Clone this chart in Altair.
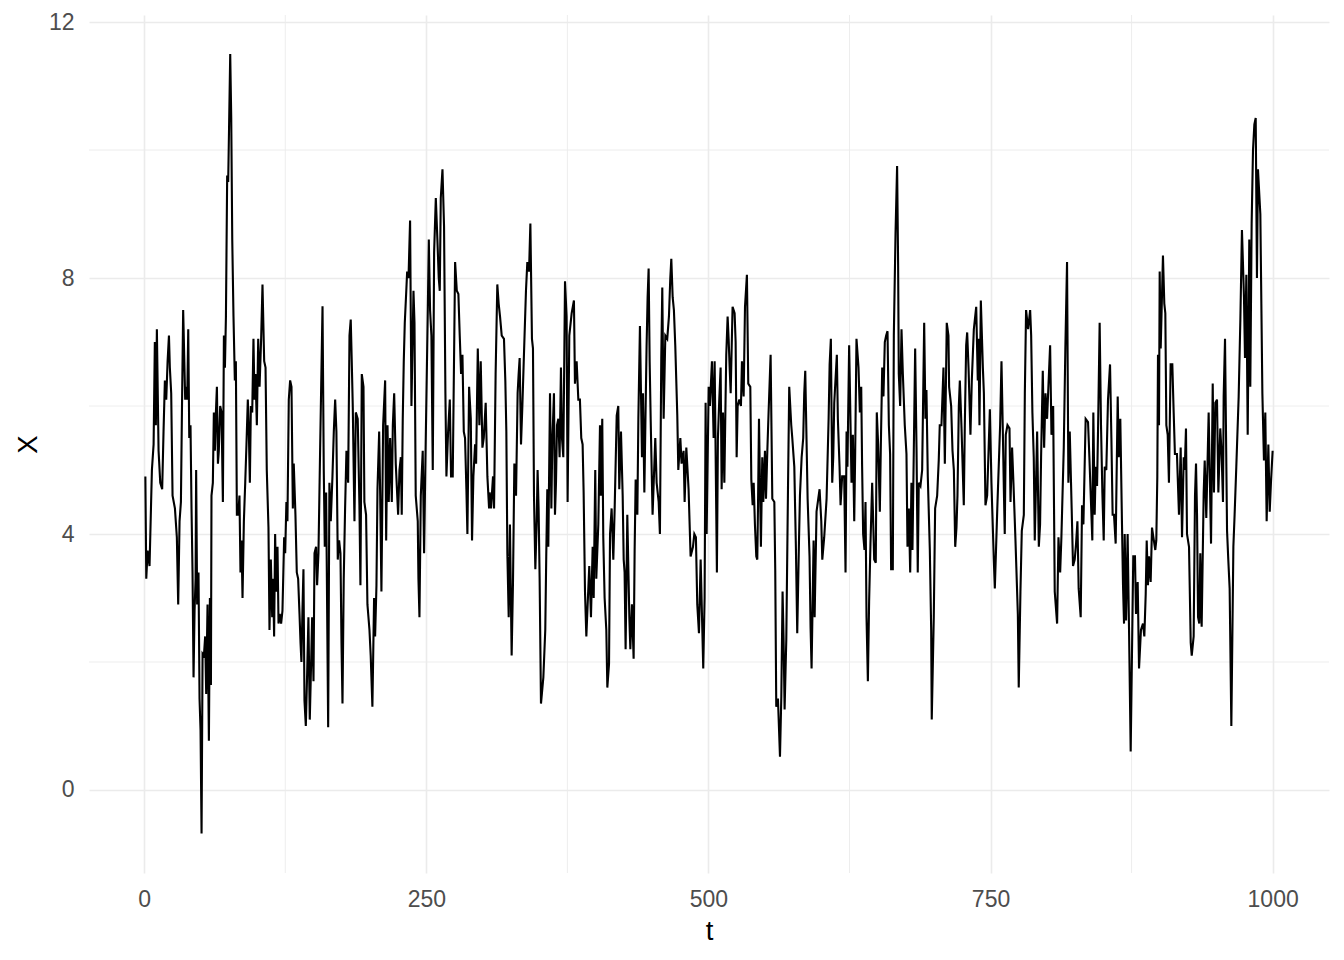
import altair as alt
import pandas as pd

# ---- series (t, X), segment by segment ----
t_seg1 = [1, 1.8, 3, 4.7, 6.8, 8.3, 9.4, 10.3, 11.2, 12.7,
          14.2, 15.9, 17.1, 18.3, 19.5, 20.7, 21.9, 22.7, 23.9, 25.1,
          27.2, 28.9, 30.1, 31.3, 32.5, 33.4, 34.5, 35.4, 36.3, 37.2,
          38.1, 39, 39.9, 41, 41.9, 42.8, 43.7, 44.6, 45.5, 46,
          46.9, 48.1, 49, 49.9, 50.8, 51.7, 52.9, 54, 54.9, 56.1,
          57.3, 58.2, 59.1, 59.6, 60.8, 61.7, 62.6, 63.5, 64.4, 65.3,
          66.1, 67.3, 68.5, 69.7, 70.6, 71.5, 72.4, 73.5, 74.4, 75.3,
          76.2, 77.1, 78, 79.1, 80.3, 81.2, 82.1, 83.3, 84.4, 85.3,
          86.2, 87.1, 88.3, 89.5, 90.6, 91.8, 92.7, 93.6, 94.5, 95.7,
          96.8, 97.7, 98.6, 99.8, 101, 102.2]
x_seg1 = [4.9, 3.3, 3.74, 3.5, 5.0, 5.4, 7.0, 5.7, 7.2, 5.3,
          4.8, 4.7, 5.6, 6.4, 6.1, 6.7, 7.1, 6.6, 6.2, 4.6,
          4.4, 3.95, 2.9, 4.2, 4.5, 5.9, 7.5, 6.8, 6.1, 6.3,
          6.1, 7.2, 5.5, 5.7, 4.4, 3.4, 1.76, 2.8, 3.3, 5.0,
          2.9, 3.4, 1.43, 0.93, -0.68, 2.13, 2.1, 2.4, 1.5, 2.9,
          0.77, 3.0, 1.64, 4.6, 4.8, 5.9, 5.3, 5.9, 6.3, 5.1,
          5.3, 6.0, 5.9, 4.5, 7.1, 6.6, 7.4, 9.6, 9.5, 10.5,
          11.5, 10.5, 8.6, 7.4, 6.4, 6.7, 4.3, 4.3, 4.6, 3.4,
          3.9, 3.0, 4.2, 4.8, 5.4, 6.1, 5.6, 4.8, 6.0, 5.9,
          7.05, 6.1, 6.5, 5.7, 7.05, 6.3]

t_seg2 = [103.6, 104.8, 106.3, 107.5, 108.6, 110.1, 111, 112.2, 113.4, 114.2,
          115.1, 116, 116.9, 118.1, 119, 120.1, 121.3, 122.5, 124, 124.9,
          126, 126.9, 128.1, 129.3, 130.5, 131.7, 132.5, 134, 135.2, 136.4,
          137.6, 138.5, 139.3, 140.2, 141.1, 142, 143.2, 144.4, 145.5, 146.7,
          147.6, 148.8, 150, 150.9, 152.3, 153.2, 154.4, 155.9, 158, 159.1,
          160, 161.2, 163, 164.1, 165.3, 166.8, 168, 169.2, 170.3, 171.5,
          172.7, 173.9, 174.8, 175.7, 176.8, 178, 179.2, 180.7, 181.9, 183,
          183.9, 184.8, 186.3, 187.5, 189.2, 190.7, 191.6, 192.8, 194.3, 195.1,
          196.6, 197.8, 199.6, 200.7, 202.2, 203.7]
x_seg2 = [7.05, 7.9, 6.7, 6.6, 5.0, 4.1, 2.5, 3.6, 2.7, 3.3,
          2.4, 4.0, 3.1, 3.8, 2.6, 2.75, 2.6, 2.8, 3.95, 3.7,
          4.5, 4.2, 6.1, 6.4, 6.3, 4.4, 5.1, 4.3, 3.4, 3.3,
          2.75, 2.3, 2.0, 2.8, 3.45, 1.4, 1.0, 1.84, 2.7, 1.1,
          1.76, 2.7, 1.7, 3.7, 3.8, 3.2, 3.7, 5.35, 7.56, 5.0,
          3.8, 4.65, 0.98, 4.8, 4.2, 4.9, 5.6, 6.1, 5.6, 3.6,
          3.9, 3.7, 2.3, 1.35, 3.3, 4.4, 5.3, 4.8, 7.1, 7.35,
          6.7, 6.0, 4.2, 5.9, 5.8, 4.45, 3.2, 6.5, 6.3, 4.5,
          4.3, 2.9, 2.5, 2.1, 1.3, 3.0]

t_seg3 = [204.6, 205.8, 206.7, 208.2, 209.1, 210.2, 211.7, 213.5, 214.4, 215.6,
          216.7, 217.9, 219.4, 220.3, 221.5, 222.9, 225, 226.2, 227.4, 228.2,
          229.1, 230, 230.9, 232.1, 233, 234.2, 235.6, 236.8, 238.6, 239.5,
          240.6, 242.4, 243, 243.9, 245.1, 246.8, 248, 249.5, 251.3, 252.2,
          253.3, 254.5, 255.7, 256.9, 258.4, 259.8, 261, 261.9, 262.8, 264.3,
          265.7, 266.9, 267.8, 269.3, 270.8, 271.9, 273.4, 275.5, 277, 278.4,
          279.6, 280.8, 282, 283.2, 284.3, 285.5, 286.4, 287.9, 289.4, 290.5,
          291.7, 293.2, 294.1, 295.6, 297, 298.2, 299.7, 300.9, 302.6, 304.1,
          305.6]
x_seg3 = [2.4, 3.2, 4.7, 5.6, 4.6, 3.1, 5.7, 6.4, 3.9, 5.7,
          4.5, 5.5, 4.5, 5.7, 6.2, 5.1, 4.3, 5.0, 5.2, 4.3,
          5.8, 6.7, 7.3, 7.75, 8.1, 8.0, 8.9, 6.0, 7.8, 7.3,
          4.6, 4.2, 3.3, 2.7, 4.6, 5.3, 3.7, 5.5, 7.5, 8.6,
          7.5, 7.1, 5.0, 8.4, 9.25, 8.6, 8.0, 7.8, 9.25, 9.7,
          8.8, 6.2, 4.9, 5.6, 6.1, 4.9, 4.9, 8.25, 7.8, 7.75,
          7.1, 6.5, 6.8, 5.6, 5.5, 4.7, 4.0, 6.3, 5.8, 3.9,
          4.9, 5.4, 5.1, 6.9, 5.7, 6.7, 5.35, 5.5, 6.05, 4.9,
          4.4]

t_seg4 = [306.1, 307.3, 309.1, 310, 311.4, 312.9, 314.1, 315.3, 316.8, 318.8,
          320, 320.9, 321.8, 323, 324.1, 325.6, 326.8, 328, 329.5, 330.9,
          331.8, 332.7, 333.9, 335.1, 336.5, 338.3, 339.5, 341, 342.2, 343.6,
          344.5, 345.4, 346.6, 347.8, 348.6, 349.5, 350.4, 351.6, 353.7, 355.4,
          356.3, 357.2, 358.1, 359.6, 360.8, 361.6, 363.1, 364, 364.9, 365.8,
          367, 368.1, 369.3, 370.2, 371.4, 372.9, 374.3, 375.2, 376.7, 378.8,
          380.8, 381.7, 383.2, 384.7, 386.1, 387.3, 388.5, 389.4, 390.6, 391.8,
          393.2, 394.4, 395.9, 397.4, 398.3, 399.7, 400.6, 402.4, 403.9, 404.7,
          405.9, 406.8, 408]
x_seg4 = [4.65, 4.4, 4.9, 4.4, 6.5, 7.9, 7.6, 7.4, 7.1, 7.05,
          6.4, 5.6, 3.7, 2.7, 4.15, 2.1, 3.25, 5.1, 4.6, 6.2,
          6.5, 6.75, 5.4, 6.0, 6.8, 7.8, 8.25, 8.1, 8.85, 7.05,
          6.9, 4.6, 3.45, 4.2, 5.0, 4.4, 3.3, 1.35, 1.76, 2.5,
          3.7, 4.7, 3.8, 6.2, 4.4, 5.4, 6.2, 4.3, 4.8, 5.7,
          5.8, 5.2, 6.6, 5.5, 5.2, 7.95, 7.4, 4.5, 7.1, 7.45,
          7.65, 6.35, 6.7, 6.1, 6.1, 5.5, 5.4, 4.65, 3.1, 2.4,
          3.0, 3.5, 2.7, 3.8, 3.0, 5.0, 3.3, 4.15, 5.7, 4.6,
          5.8, 3.95, 3.0]

t_seg5 = [409.5, 410.4, 411.9, 412.8, 414.2, 415.7, 416.9, 418.7, 420.1, 421,
          422.5, 424, 424.9, 425.7, 426.6, 428.1, 429.9, 430.8, 432.2, 433.7,
          434.6, 435.5, 437, 437.9, 439.3, 441.1, 442, 443.2, 444.1, 445.2,
          446.1, 447, 447.9, 448.8, 450.5, 452.9, 454.1, 455.9, 457, 458.2,
          459.1, 460.3, 461.8, 463.5, 465, 466.2, 467.1, 468.3, 469.4, 470.6,
          472.4, 473.3, 475.1, 476.2, 478, 478.9, 480.4, 482.4, 484.2, 486.3,
          487.5, 488.9, 490.1, 491.6, 493.1, 495.4, 496.6, 497.5, 498.4, 500.2,
          501.3, 503.1, 504.6, 505.5, 507.5, 508.4, 509.6]
x_seg5 = [2.5, 1.6, 1.97, 4.0, 4.4, 3.6, 4.4, 5.85, 6.0, 4.7,
          5.6, 4.6, 3.6, 3.4, 2.2, 4.3, 2.7, 2.2, 2.9, 2.05,
          3.75, 4.85, 4.3, 5.8, 7.25, 5.2, 6.2, 4.65, 5.7, 6.95,
          7.7, 8.15, 6.7, 5.8, 4.3, 5.5, 4.8, 4.5, 4.0, 6.75,
          7.85, 5.8, 7.1, 7.05, 7.4, 8.0, 8.3, 7.7, 7.5, 6.95,
          5.85, 5.0, 5.5, 5.1, 5.3, 4.5, 5.35, 4.7, 3.65, 3.8,
          4.0, 3.95, 2.9, 2.45, 3.6, 1.9, 3.0, 6.05, 4.0, 6.3,
          6.0, 6.7, 5.5, 6.7, 3.4, 5.5, 6.1]

t_seg6 = [510.8, 511.7, 512.9, 514.1, 515, 515.8, 517, 517.9, 518.8, 519.7,
          521.4, 523.2, 524.1, 525, 525.9, 527.4, 528.8, 529.7, 531.2, 532.4,
          534.1, 535.3, 537.1, 538, 539.2, 540.1, 541.2, 542.4, 543.3, 543.9,
          544.8, 546.5, 547.7, 548.6, 550.1, 551, 552.2, 553.3, 555.1, 556.6,
          558.4, 559.2, 560.1, 561.6, 563.4, 564.6, 565.7, 566.6, 567.5, 569,
          570.5, 571.6, 573.4, 574.3, 576.1, 577.5, 578.7, 580.2, 581.1, 582.6,
          584, 584.9, 585.8, 587.9, 589.6, 590.5, 591.4, 593.2, 594.1, 595.8,
          597.3, 598.5, 600, 600.9, 602.6, 604.7, 606.5, 607.4, 608.5, 609.7,
          610.6, 611.5]
x_seg6 = [6.6, 4.7, 5.9, 4.8, 5.9, 6.8, 7.4, 7.05, 6.6, 6.2,
          7.55, 7.45, 7.0, 5.2, 6.0, 6.1, 6.0, 6.7, 6.15, 7.55,
          8.05, 6.35, 6.3, 4.85, 4.45, 4.8, 4.15, 3.65, 3.6, 4.4,
          5.8, 3.8, 5.2, 4.5, 5.3, 4.55, 5.3, 5.9, 6.8, 4.55,
          4.5, 3.45, 1.3, 1.43, 0.52, 1.47, 3.1, 2.35, 1.26, 2.35,
          4.7, 6.3, 5.7, 5.5, 5.05, 3.8, 2.45, 3.85, 4.6, 5.2,
          5.5, 6.2, 6.55, 4.55, 3.65, 2.55, 1.9, 3.9, 2.7, 4.35,
          4.55, 4.7, 4.2, 3.6, 3.95, 4.55, 5.8, 6.65, 7.05, 4.8,
          5.2, 6.05]

t_seg7 = [613.8, 614.7, 616.2, 617.1, 618.5, 620.3, 621.5, 622.4, 623.2, 624.7,
          625.6, 626.8, 628, 629.2, 630, 631.2, 633, 634.2, 635.4, 636.2,
          637.1, 638.3, 639.2, 640.1, 641.3, 642.4, 643.6, 645.1, 646.9, 648.3,
          649.2, 650.4, 651.9, 652.8, 654, 655.1, 656.3, 657.5, 658.7, 659.9,
          661, 661.9, 663.4, 664.3, 665.8, 667.2, 668.1, 668.7, 669.9, 671.1,
          672.3, 674, 675.5, 676.4, 677.6, 678.8, 679.9, 680.8, 682, 683.2,
          684.4, 685.5, 686.4, 687.9, 689.4, 691.2, 692.3, 693.2, 694.4, 696.2,
          697.4, 697.9, 699.7, 700.9, 702.7, 704.1, 705, 706.5, 708.3, 709.5,
          711.2, 712.7]
x_seg7 = [6.8, 5.8, 5.05, 4.45, 4.9, 4.9, 3.4, 5.6, 5.05, 6.95,
          6.05, 4.8, 5.55, 4.2, 5.2, 7.05, 6.6, 5.9, 6.3, 5.05,
          4.0, 3.75, 4.5, 2.7, 1.7, 2.95, 3.85, 4.8, 3.6, 3.55,
          5.9, 5.4, 4.35, 5.4, 6.6, 6.15, 7.0, 7.1, 7.17, 5.7,
          5.25, 3.45, 3.45, 7.1, 8.7, 9.75, 8.2, 6.5, 6.0, 7.2,
          6.5, 5.7, 5.25, 3.8, 4.4, 3.4, 4.8, 3.75, 5.3, 6.9,
          5.35, 3.4, 4.8, 4.75, 5.0, 7.3, 5.8, 6.25, 4.9, 3.75,
          2.5, 1.1, 2.7, 4.4, 4.6, 5.15, 5.7, 5.7, 6.6, 5.1,
          7.3, 7.1]

t_seg8 = [713.3, 715.1, 716.3, 717.5, 718.7, 719.8, 720.7, 721.9, 722.8, 724.3,
          726.3, 727.2, 728.4, 729.3, 730.5, 732.2, 733.4, 735.2, 737.3, 738.7,
          739.3, 740.2, 741.4, 743.2, 744.1, 745.5, 747, 749.4, 750.8, 752.9,
          753.8, 755.9, 758.5, 759.7, 760.9, 761.8, 762.6, 763.5, 765, 766.8,
          767.7, 769.1, 770.3, 772.1, 774.2, 775, 776.5, 777.7, 779.5, 780.4,
          781.5, 783.3, 785.1, 786, 787.1, 788.3, 789.2, 791.3, 792.8, 793.9,
          794.8, 796.3, 797.5, 798.7, 800.1, 802.8, 804, 805.5, 806.9, 809,
          810.2, 811.7, 812.8, 814.9]
x_seg8 = [6.3, 6.0, 5.3, 5.0, 3.8, 4.1, 4.6, 6.0, 6.4, 5.65,
          4.45, 5.7, 6.95, 7.15, 6.6, 5.55, 6.4, 7.2, 7.55, 6.4,
          7.05, 5.7, 7.65, 6.6, 6.2, 4.45, 4.6, 5.95, 4.8, 3.6,
          3.15, 4.35, 5.7, 6.7, 5.6, 4.7, 4.0, 5.55, 5.7, 5.65,
          4.5, 5.35, 4.8, 3.9, 2.75, 1.6, 3.1, 4.05, 4.3, 6.2,
          7.5, 7.2, 7.5, 7.1, 5.9, 5.2, 3.9, 5.6, 3.8, 4.15,
          5.2, 6.55, 5.35, 6.2, 5.8, 6.95, 5.55, 6.0, 3.1, 2.6,
          3.95, 3.4, 3.95, 5.35]

t_seg9 = [816.3, 817.8, 819, 820.2, 821.9, 823.1, 824.6, 825.8, 827, 828.1,
          829.9, 831.1, 832.3, 834.3, 836.4, 837.6, 838.5, 840.2, 841.1, 842.3,
          843.2, 844.4, 845.3, 846.7, 847.9, 849.1, 850.3, 851.2, 852.6, 854.1,
          855.9, 857.1, 858.2, 859.4, 860.9, 862.7, 863.6, 865, 866.5, 867.4,
          868.3, 868.9, 870.1, 871.5, 872.7, 874.2, 875.7, 876.5, 878, 878.9,
          880.4, 881.6, 883.3, 885.1, 886.3, 887.5, 888.4, 889.5, 890.4, 891.9,
          893.1, 894.3, 896, 896.9, 897.8, 898.4, 899.3, 899.9, 900.8, 902.8,
          904, 904.9, 905.8, 907, 908.1, 909.6, 911.1, 912.3, 913.4, 915.2,
          917]
x_seg9 = [6.9, 8.25, 4.8, 5.6, 4.4, 3.5, 3.6, 3.85, 4.2, 3.15,
          2.7, 4.45, 4.15, 5.8, 5.75, 5.2, 4.75, 3.9, 5.9, 4.3,
          5.05, 4.75, 5.65, 7.3, 5.7, 4.65, 3.9, 5.05, 5.0, 6.1,
          6.65, 5.5, 4.3, 4.3, 3.85, 6.15, 5.2, 5.8, 4.15, 3.2,
          2.6, 4.0, 2.65, 4.0, 2.55, 0.6, 2.6, 3.65, 3.65, 2.75,
          3.25, 1.9, 2.5, 2.6, 2.4, 3.05, 3.9, 3.2, 3.65, 3.25,
          4.1, 3.95, 3.75, 3.9, 4.9, 6.8, 5.7, 8.1, 6.9, 8.35,
          7.6, 7.45, 5.7, 5.55, 4.8, 6.65, 6.65, 5.9, 5.25, 5.25,
          4.3]

t_seg10 = [918.5, 919.7, 921.2, 922.1, 923.2, 924.1, 925.9, 927.4, 928.3, 930,
           931.2, 932.1, 933, 933.9, 935, 935.9, 937.1, 938.9, 939.8, 941.2,
           943.3, 945.4, 946.9, 948, 949.2, 950.7, 951.9, 953.6, 954.8, 956,
           956.6, 957.8, 959.6, 960.7, 961.9, 963.4, 965.2, 966.3, 967.8, 969.9,
           971.4, 972.8, 974.6, 975.5, 976.7, 977.9, 979.3, 980.2, 981.4, 982.6,
           983.8, 985, 986.1, 987, 989.1, 990.9, 992.3, 993.5, 994.7, 996.2,
           997.4, 998.5, 1000]
x_seg10 = [5.35, 3.95, 5.2, 5.0, 5.65, 4.0, 3.8, 2.3, 2.1, 2.4,
           4.6, 5.1, 4.3, 2.7, 2.6, 3.7, 2.55, 4.65, 5.15, 4.25,
           5.9, 3.85, 6.35, 4.65, 6.05, 6.1, 4.65, 5.65, 5.25, 4.5,
           6.15, 7.05, 4.05, 3.6, 3.15, 1.0, 3.8, 4.3, 5.05, 6.15,
           7.35, 8.75, 7.7, 6.75, 8.05, 5.55, 8.6, 6.3, 8.85, 10.0,
           10.4, 10.5, 8.0, 9.7, 9.0, 6.2, 5.15, 5.9, 4.2, 5.4,
           4.35, 4.8, 5.3]

# ---- axis ticks ----
x_ticks = [0, 250, 500, 750, 1000]
x_minor = [125, 375, 625, 875]
y_ticks = [0, 4, 8, 12]
y_minor = [2, 6, 10]

t_all = (t_seg1 + t_seg2 + t_seg3 + t_seg4 + t_seg5 +
         t_seg6 + t_seg7 + t_seg8 + t_seg9 + t_seg10)
x_all = (x_seg1 + x_seg2 + x_seg3 + x_seg4 + x_seg5 +
         x_seg6 + x_seg7 + x_seg8 + x_seg9 + x_seg10)
df = pd.DataFrame({"t": t_all, "X": x_all})

xscale = alt.Scale(domain=[-48.95, 1049.95], nice=False, zero=False)
yscale = alt.Scale(domain=[-1.297, 12.11], nice=False, zero=False)
xaxis = alt.Axis(values=x_ticks, title="t", grid=True, labelFlush=False, format="d")
yaxis = alt.Axis(values=y_ticks, title="X", grid=True, labelFlush=False, format="d")

minor_v = alt.Chart(pd.DataFrame({"t": x_minor})).mark_rule(
    color="#EBEBEB", strokeWidth=0.9
).encode(x=alt.X("t:Q", scale=xscale, axis=xaxis))

minor_h = alt.Chart(pd.DataFrame({"X": y_minor})).mark_rule(
    color="#EBEBEB", strokeWidth=0.9
).encode(y=alt.Y("X:Q", scale=yscale, axis=yaxis))

line = alt.Chart(df).mark_line(color="#000000", strokeWidth=2.1).encode(
    x=alt.X("t:Q", scale=xscale, axis=xaxis),
    y=alt.Y("X:Q", scale=yscale, axis=yaxis),
)

chart = alt.layer(minor_v, minor_h, line).properties(
    width=1240,
    height=858,
    autosize=alt.AutoSizeParams(type="none"),
    padding={"left": 81, "top": 7, "right": 7, "bottom": 75},
    background="#FFFFFF",
).configure_view(
    stroke="transparent"
).configure_axis(
    domain=False,
    ticks=False,
    tickSize=0,
    labelFont="Liberation Sans",
    labelFontSize=23,
    labelColor="#4D4D4D",
    titleFont="Liberation Sans",
    titleFontSize=27.5,
    titleFontWeight="normal",
    titleColor="#000000",
    gridColor="#EBEBEB",
    gridWidth=1.6,
).configure_axisX(
    labelPadding=15,
    titlePadding=6,
).configure_axisY(
    labelPadding=15,
    titlePadding=6,
)

chart.save("out.html", embed_options={"renderer": "svg", "actions": False})
